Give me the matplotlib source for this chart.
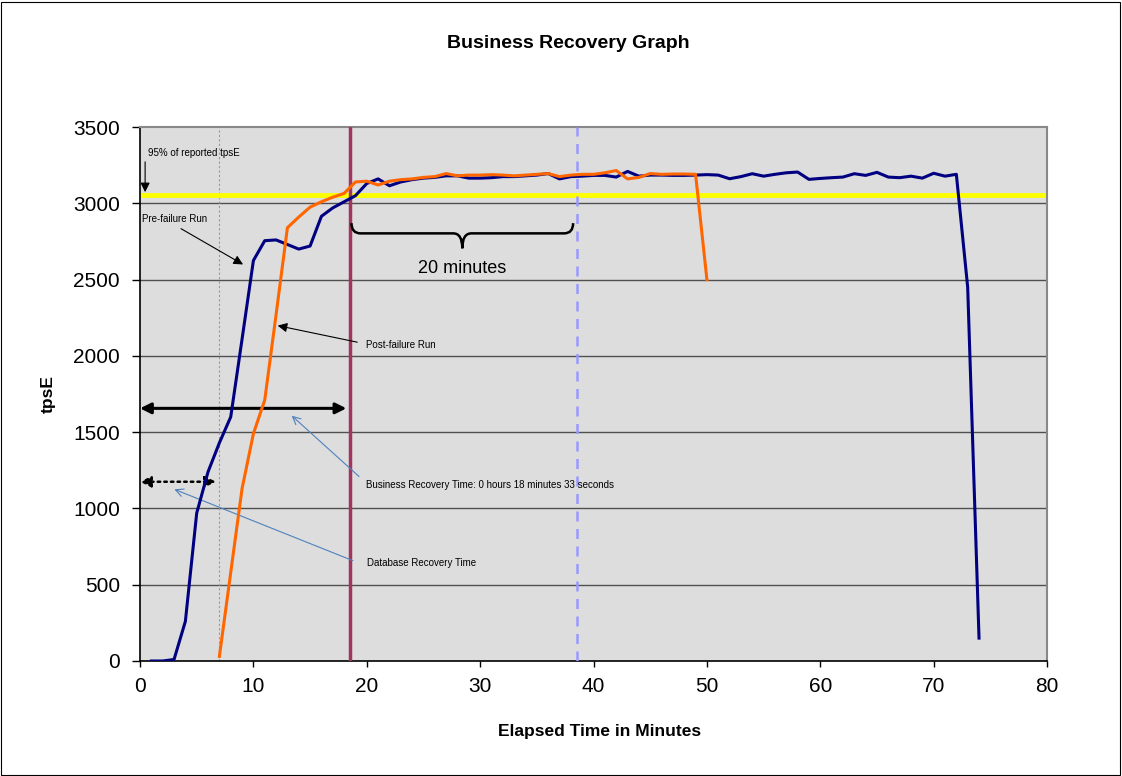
import matplotlib
matplotlib.use('Agg')
import matplotlib.pyplot as plt
from matplotlib.patches import Rectangle, PathPatch
from matplotlib.path import Path

plt.rcParams['font.family'] = ['Liberation Sans', 'DejaVu Sans']

# pre-failure run (minutes, tpsE)
pre_minutes = list(range(1, 75))
pre_tpse = [0, 0, 10, 260, 970, 1240, 1430, 1600, 2110, 2625,
            2755, 2760, 2730, 2700, 2720, 2915, 2970, 3010, 3050, 3130,
            3160, 3115, 3140, 3155, 3165, 3170, 3180, 3180, 3165, 3165,
            3168, 3175, 3175, 3180, 3185, 3195, 3160, 3175, 3178, 3183,
            3183, 3172, 3209, 3178, 3185, 3185, 3183, 3183, 3185, 3188,
            3185, 3161, 3175, 3194, 3178, 3190, 3200, 3205, 3157, 3163,
            3168, 3172, 3194, 3183, 3203, 3172, 3168, 3178, 3165, 3197,
            3178, 3190, 2450, 150]

# post-failure run
post_minutes = list(range(7, 51))
post_tpse = [30, 580, 1130, 1490, 1710, 2270, 2840, 2910, 2975, 3010,
             3040, 3065, 3140, 3145, 3120, 3145, 3155, 3160, 3170, 3175,
             3195, 3180, 3185, 3185, 3188, 3185, 3180, 3185, 3190, 3195,
             3175, 3185, 3190, 3190, 3200, 3215, 3160, 3170, 3195, 3190,
             3192, 3192, 3190, 2500]

tpse_95 = 3052
db_recovery = 7.0
business_recovery = 18.55
steady_end = business_recovery + 20

fig = plt.figure(figsize=(11.22, 7.76), dpi=100)
ax = fig.add_axes([0.1248, 0.1482, 0.8084, 0.6881])
ax.set_facecolor('#dddddd')

for v in range(500, 3500, 500):
    ax.axhline(v, color='#505050', lw=1, zorder=1)

ax.axvline(db_recovery, color='#999999', lw=0.8, ls=(0, (2, 2)), zorder=1)
ax.axhline(tpse_95, color='#ffff00', lw=3.5, zorder=2)
ax.axvline(business_recovery, color='#a0365e', lw=2.5, zorder=3)
ax.axvline(steady_end, color='#9999ff', lw=1.8, ls=(0, (4, 3)), zorder=3)

ax.plot(pre_minutes, pre_tpse, color='#000080', lw=2.2, zorder=4)
ax.plot(post_minutes, post_tpse, color='#ff6600', lw=2.2, zorder=5)

ax.set_xlim(0, 80)
ax.set_ylim(0, 3500)
ax.set_xticks(range(0, 81, 10))
ax.set_yticks(range(0, 3501, 500))
ax.tick_params(axis='x', labelsize=15, direction='out', length=4.5, width=1, pad=7)
ax.tick_params(axis='y', labelsize=15, direction='out', length=6, width=1, pad=8.5)
for s in ['left', 'bottom']:
    ax.spines[s].set_color('black')
    ax.spines[s].set_linewidth(1.2)
for s in ['top', 'right']:
    ax.spines[s].set_color('#888888')
    ax.spines[s].set_linewidth(1.5)

ax.set_xlabel('Elapsed Time in Minutes', fontsize=12.5, fontweight='bold')
ax.xaxis.set_label_coords(0.5066, -0.118)
ax.set_ylabel('tpsE', fontsize=12.5, fontweight='bold')
ax.yaxis.set_label_coords(-0.0926, 0.5)
fig.text(0.5067, 0.944, 'Business Recovery Graph', ha='center', va='center',
         fontsize=14, fontweight='bold')

# annotations
small = 7
black_arrow = dict(arrowstyle='-|>', color='black', lw=0.8, mutation_scale=14)
blue_arrow = dict(arrowstyle='->', color='#4f81bd', lw=0.8, mutation_scale=14)

ax.text(0.7, 3330, '95% of reported tpsE', fontsize=small, va='center')
ax.annotate('', xy=(0.45, 3055), xytext=(0.45, 3290), arrowprops=black_arrow)

ax.text(0.15, 2895, 'Pre-failure Run', fontsize=small, va='center')
ax.annotate('', xy=(9.3, 2590), xytext=(3.4, 2843), arrowprops=black_arrow)

ax.text(19.9, 2071, 'Post-failure Run', fontsize=small, va='center')
ax.annotate('', xy=(11.9, 2202), xytext=(19.4, 2086), arrowprops=black_arrow)

ax.annotate('', xy=(0, 1656), xytext=(18.2, 1656),
            arrowprops=dict(arrowstyle='<|-|>', color='black', lw=2.2, mutation_scale=16,
                            shrinkA=0, shrinkB=0))
ax.annotate('', xy=(0, 1175), xytext=(6.7, 1175),
            arrowprops=dict(arrowstyle='<|-|>', color='black', lw=1.8, ls=':',
                            mutation_scale=16, shrinkA=0, shrinkB=0))

ax.text(19.9, 1153, 'Business Recovery Time: 0 hours 18 minutes 33 seconds',
        fontsize=small, va='center')
ax.annotate('', xy=(13.2, 1620), xytext=(19.5, 1197), arrowprops=blue_arrow)

ax.text(20.0, 644, 'Database Recovery Time', fontsize=small, va='center')
ax.annotate('', xy=(2.8, 1132), xytext=(19.0, 651), arrowprops=blue_arrow)

# curly brace for the 20 minute window
x0, x1 = business_recovery + 0.1, steady_end - 0.35
xm = (x0 + x1) / 2
top, mid, tip = 2870, 2803, 2705
verts = [(x0, top), (x0, mid), (x0 + 0.8, mid),
         (xm - 0.8, mid), (xm, mid), (xm, tip),
         (xm, mid), (xm + 0.8, mid),
         (x1 - 0.8, mid), (x1, mid), (x1, top)]
codes = [Path.MOVETO, Path.CURVE3, Path.CURVE3,
         Path.LINETO, Path.CURVE3, Path.CURVE3,
         Path.CURVE3, Path.CURVE3,
         Path.LINETO, Path.CURVE3, Path.CURVE3]
ax.add_patch(PathPatch(Path(verts, codes), fill=False, lw=1.8, color='black', zorder=6))
ax.text(xm, 2574, '20 minutes', fontsize=13, ha='center', va='center')

fig.patches.append(Rectangle((0.001, 0.001), 0.997, 0.997, transform=fig.transFigure,
                             fill=False, edgecolor='black', lw=0.8))

fig.savefig('out.png', dpi=100)
